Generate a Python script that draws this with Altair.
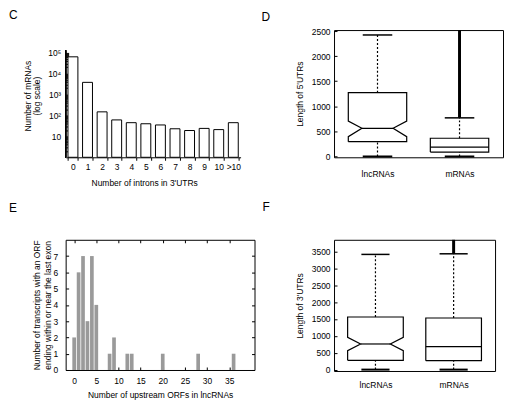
import altair as alt
import pandas as pd

FONT = "Liberation Sans"

# ---------------- Panel C: introns in 3'UTRs (log scale) ----------------
c_categories = ["0", "1", "2", "3", "4", "5", "6", "7", "8", "9", "10", ">10"]
c_counts = [63000, 3800, 148, 61, 45, 40, 35, 23, 19, 24, 21, 45]
c_tick_values = [10, 100, 1000, 10000, 100000]
c_tick_labels = ["10", "10²", "10³", "10⁴", "10⁵"]
c_minor_ticks = [m * d for d in [1, 10, 100, 1000, 10000] for m in [2, 3, 4, 5, 6, 7, 8, 9]] + [100000]

# ---------------- Panel D: 5'UTR lengths ----------------
groups = ["lncRNAs", "mRNAs"]
d_q1 = [296, 87]
d_median = [561, 186]
d_q3 = [1271, 363]
d_lower = [0, 0]
d_upper = [2422, 770]
d_notch_lo = [395, None]
d_notch_hi = [705, None]
d_outlier_max = [None, 2520]
d_ticks = [0, 500, 1000, 1500, 2000, 2500]

# ---------------- Panel E: upstream ORFs ----------------
e_orfs = [0, 1, 2, 3, 4, 5, 8, 9, 12, 13, 20, 28, 36]
e_counts = [2, 6, 7, 3, 7, 4, 1, 2, 1, 1, 1, 1, 1]
e_xticks = [0, 5, 10, 15, 20, 25, 30, 35]
e_yticks = [0, 1, 2, 3, 4, 5, 6, 7]

# ---------------- Panel F: 3'UTR lengths ----------------
f_q1 = [276, 266]
f_median = [759, 680]
f_q3 = [1558, 1529]
f_lower = [0, 0]
f_upper = [3412, 3430]
f_notch_lo = [562, None]
f_notch_hi = [957, None]
f_outlier_max = [None, 3845]
f_ticks = [0, 500, 1000, 1500, 2000, 2500, 3000, 3500]


def letter(t, dx, offset):
    return alt.TitleParams(text=t, anchor="start", frame="group", dx=dx, offset=offset,
                           fontSize=12, font=FONT, fontWeight="normal", color="black")


# ---------- C ----------
c_df = pd.DataFrame({"cat": c_categories, "n": c_counts})
c_lab = " : ".join([f"datum.value == {v} ? '{l}'" for v, l in zip(c_tick_values, c_tick_labels)]) + " : ''"
c_yscale = alt.Scale(type="log", domain=[1, 1.197e6], nice=False)
c_yaxis = alt.Axis(values=sorted(set(c_minor_ticks + c_tick_values)), labelExpr=c_lab, domain=False,
                   offset=-3, tickSize=3, labelPadding=5, title=["Number of mRNAs", "(log scale)"],
                   titleLineHeight=9.5, titlePadding=6, titleY=66, grid=False)
c_xaxis = alt.Axis(tickBand="extent", tickSize=3, labelPadding=2.5, labelAngle=0,
                   title="Number of introns in 3'UTRs", titlePadding=7, titleX=79, grid=False)
c_bars = alt.Chart(c_df).mark_bar(fill="white", stroke="black", strokeWidth=1).encode(
    x=alt.X("cat:N", sort=c_categories, scale=alt.Scale(paddingInner=0.32, paddingOuter=0.16), axis=c_xaxis),
    y=alt.Y("n:Q", scale=c_yscale, axis=c_yaxis),
    y2=alt.Y2(datum=1),
)
c_axisline = alt.Chart(c_df).mark_rule(color="black", strokeWidth=1).encode(
    x=alt.value(0),
    y=alt.Y(datum=1, scale=c_yscale, axis=c_yaxis),
    y2=alt.Y2(datum=130000),
)
panel_c = alt.layer(c_bars, c_axisline).properties(
    width=176, height=128, title=letter("C", -57, 8))


# ---------- box panels ----------
def box_panel(q1, med, q3, lo, hi, nlo, nhi, omax, ydomain, yticks, ytitle, width, height,
              labelpad, title):
    W, WN, CAP = 0.356, 0.19, 0.18
    outline, stats, outl = [], [], []
    for i, g in enumerate(groups):
        x = i + 1
        notched = nlo[i] is not None
        pts = [(x - W, q1[i]), (x + W, q1[i])]
        if notched:
            pts += [(x + W, nlo[i]), (x + WN, med[i]), (x + W, nhi[i])]
        pts += [(x + W, q3[i]), (x - W, q3[i])]
        if notched:
            pts += [(x - W, nhi[i]), (x - WN, med[i]), (x - W, nlo[i])]
        pts += [(x - W, q1[i])]
        for k, (px, py) in enumerate(pts):
            outline.append({"group": g, "k": k, "px": px, "py": py})
        m = WN if notched else W
        stats.append({"group": g, "x": x, "mx0": x - m, "mx1": x + m, "cx0": x - CAP, "cx1": x + CAP,
                      "q1": q1[i], "med": med[i], "q3": q3[i], "lo": lo[i], "hi": hi[i]})
        if omax[i] is not None:
            outl.append({"group": g, "x": x, "hi": hi[i], "omax": omax[i]})
    odf = pd.DataFrame(outline)
    sdf = pd.DataFrame(stats)
    xdf = pd.DataFrame(outl)

    xs = alt.Scale(domain=[0.47, 2.53], nice=False, zero=False)
    ys = alt.Scale(domain=ydomain, nice=False, zero=False)
    lab = " : ".join([f"datum.value == {i + 1} ? '{g}'" for i, g in enumerate(groups)]) + " : ''"
    xa = alt.Axis(values=[1, 2], labelExpr=lab, ticks=False, domain=False, labelPadding=labelpad,
                  title=None, grid=False, labelAngle=0)
    ya = alt.Axis(values=yticks, format="d", domain=False, offset=-3, tickSize=3, labelPadding=4,
                  title=ytitle, titlePadding=7, grid=False)

    def X(f):
        return alt.X(f, scale=xs, axis=xa)

    def Y(f):
        return alt.Y(f, scale=ys, axis=ya)

    box = alt.Chart(odf).mark_line(color="black", strokeWidth=1.2).encode(
        x=X("px:Q"), y=Y("py:Q"), order="k:Q", detail="group:N")
    median = alt.Chart(sdf).mark_rule(color="black", strokeWidth=1.2).encode(
        x=X("mx0:Q"), x2="mx1:Q", y=Y("med:Q"))
    wh_up = alt.Chart(sdf).mark_rule(color="black", strokeWidth=1.2, strokeDash=[2, 2]).encode(
        x=X("x:Q"), y=Y("q3:Q"), y2="hi:Q")
    wh_lo = alt.Chart(sdf).mark_rule(color="black", strokeWidth=1.2, strokeDash=[2, 2]).encode(
        x=X("x:Q"), y=Y("lo:Q"), y2="q1:Q")
    cap_up = alt.Chart(sdf).mark_rule(color="black", strokeWidth=1.5).encode(
        x=X("cx0:Q"), x2="cx1:Q", y=Y("hi:Q"))
    cap_lo = alt.Chart(sdf).mark_rule(color="black", strokeWidth=2).encode(
        x=X("cx0:Q"), x2="cx1:Q", y=Y("lo:Q"))
    outliers = alt.Chart(xdf).mark_rule(color="black", strokeWidth=3).encode(
        x=X("x:Q"), y=Y("hi:Q"), y2="omax:Q")
    return alt.layer(box, median, wh_up, wh_lo, cap_up, cap_lo, outliers).properties(
        width=width, height=height, title=title,
        view=alt.ViewBackground(stroke="black", strokeWidth=1))


panel_d = box_panel(d_q1, d_median, d_q3, d_lower, d_upper, d_notch_lo, d_notch_hi, d_outlier_max,
                    [-16, 2520], d_ticks, "Length of 5'UTRs", 170, 128, 12, letter("D", -73, 3.5))
panel_f = box_panel(f_q1, f_median, f_q3, f_lower, f_upper, f_notch_lo, f_notch_hi, f_outlier_max,
                    [-41, 3845], f_ticks, "Length of 3'UTRs", 162, 132, 9.5, letter("F", -72, 24))

# ---------- E ----------
e_df = pd.DataFrame({"orfs": e_orfs, "n": e_counts})
e_xs = alt.Scale(domain=[-0.8, 39.6], nice=False, zero=False)
e_ys = alt.Scale(domain=[0, 8], nice=False)
e_bars = alt.Chart(e_df).mark_bar(size=3.7, color="#9a9a9a").encode(
    x=alt.X("orfs:Q", scale=e_xs,
            axis=alt.Axis(values=e_xticks, offset=-3, tickSize=3, domain=False, labelPadding=7,
                          title="Number of upstream ORFs in lncRNAs", titlePadding=5, grid=False)),
    y=alt.Y("n:Q", scale=e_ys,
            axis=alt.Axis(values=e_yticks, offset=-3, tickSize=3, domain=False, labelPadding=8,
                          title=["Number of transcripts with an ORF", "ending within or near the last exon"],
                          titleLineHeight=11, titlePadding=1, grid=False)),
    y2=alt.Y2(datum=0),
)
e_mirror = alt.Chart(e_df).mark_point(opacity=0).encode(
    x=alt.X("orfs:Q", scale=e_xs,
            axis=alt.Axis(orient="top", values=e_xticks, offset=-3, tickSize=3, domain=False,
                          labels=False, title=None, grid=False)),
    y=alt.Y("n:Q", scale=e_ys,
            axis=alt.Axis(orient="right", values=e_yticks, offset=-3, tickSize=3, domain=False,
                          labels=False, title=None, grid=False)),
)
panel_e = alt.layer(e_bars, e_mirror).resolve_axis(x="independent", y="independent").properties(
    width=190, height=131, title=letter("E", -57, 24),
    view=alt.ViewBackground(stroke="black", strokeWidth=1))

chart = alt.concat(panel_c, panel_d, panel_e, panel_f, columns=2,
                   spacing=alt.RowColnumber(row=83, column=80),
                   bounds="flush", align="each").properties(
    padding=0
).configure_view(stroke=None).configure_axis(
    labelFont=FONT, titleFont=FONT, labelFontSize=8.5, titleFontSize=8.5,
    titleFontWeight="normal", labelColor="black", titleColor="black",
    domainColor="black", tickColor="black", domainWidth=1, tickWidth=1
)

chart.save("out.html", embed_options={"renderer": "svg", "actions": False})
